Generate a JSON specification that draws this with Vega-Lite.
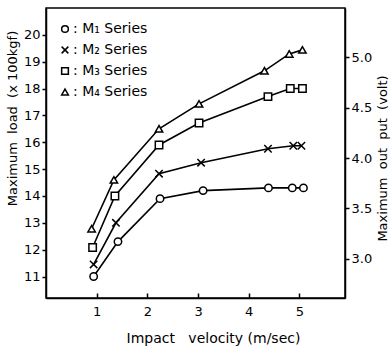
{
  "$schema": "https://vega.github.io/schema/vega-lite/v6.json",
  "width": 299,
  "height": 290,
  "autosize": {"type": "none"},
  "padding": {"left": 46, "top": 8, "right": 46, "bottom": 52},
  "background": "white",
  "config": {
    "font": "DejaVu Sans",
    "view": {"stroke": "black", "strokeWidth": 1.5},
    "axis": {
      "labelFont": "DejaVu Sans",
      "titleFont": "DejaVu Sans",
      "labelFontSize": 13,
      "titleFontSize": 13,
      "titleFontWeight": "normal",
      "labelColor": "black",
      "titleColor": "black",
      "domainColor": "black",
      "domainWidth": 1.5,
      "tickColor": "black",
      "tickWidth": 1.5,
      "grid": false,
      "labelOverlap": false,
      "titleBaseline": "middle"
    },
    "legend": {
      "labelFont": "DejaVu Sans",
      "labelFontSize": 14,
      "labelColor": "black"
    }
  },
  "datasets": {
    "main": [
      {"series": "M₁ Series", "v": 0.94, "load": 11.0},
      {"series": "M₁ Series", "v": 1.42, "load": 12.3},
      {"series": "M₁ Series", "v": 2.25, "load": 13.9},
      {"series": "M₁ Series", "v": 3.1, "load": 14.2},
      {"series": "M₁ Series", "v": 4.39, "load": 14.3},
      {"series": "M₁ Series", "v": 4.86, "load": 14.3},
      {"series": "M₁ Series", "v": 5.08, "load": 14.3},
      {"series": "M₂ Series", "v": 0.94, "load": 11.45},
      {"series": "M₂ Series", "v": 1.38, "load": 13.0},
      {"series": "M₂ Series", "v": 2.23, "load": 14.83},
      {"series": "M₂ Series", "v": 3.06, "load": 15.24},
      {"series": "M₂ Series", "v": 4.38, "load": 15.76},
      {"series": "M₂ Series", "v": 4.88, "load": 15.87},
      {"series": "M₂ Series", "v": 5.04, "load": 15.87},
      {"series": "M₃ Series", "v": 0.92, "load": 12.08},
      {"series": "M₃ Series", "v": 1.36, "load": 14.0},
      {"series": "M₃ Series", "v": 2.23, "load": 15.9},
      {"series": "M₃ Series", "v": 3.02, "load": 16.72},
      {"series": "M₃ Series", "v": 4.38, "load": 17.7},
      {"series": "M₃ Series", "v": 4.82, "load": 18.0},
      {"series": "M₃ Series", "v": 5.06, "load": 18.0},
      {"series": "M₄ Series", "v": 0.9, "load": 12.78},
      {"series": "M₄ Series", "v": 1.34, "load": 14.6},
      {"series": "M₄ Series", "v": 2.23, "load": 16.5},
      {"series": "M₄ Series", "v": 3.02, "load": 17.43},
      {"series": "M₄ Series", "v": 4.31, "load": 18.66},
      {"series": "M₄ Series", "v": 4.8, "load": 19.29},
      {"series": "M₄ Series", "v": 5.06, "load": 19.44}
    ],
    "volt": [
      {"volt": 3.0},
      {"volt": 5.0}
    ]
  },
  "layer": [
    {
      "data": {"name": "main"},
      "encoding": {
        "x": {
          "field": "v", "type": "quantitative",
          "scale": {"domain": [0, 5.9], "nice": false, "zero": false},
          "axis": {
            "values": [1, 2, 3, 4, 5],
            "tickSize": -5,
            "labelPadding": 12,
            "title": "Impact\u00a0\u00a0\u00a0velocity (m/sec)",
            "titleFontSize": 14,
            "titleX": 167,
            "titleY": 40
          }
        },
        "y": {
          "field": "load", "type": "quantitative",
          "scale": {"domain": [10.2, 21.0], "nice": false, "zero": false},
          "axis": {
            "values": [11, 12, 13, 14, 15, 16, 17, 18, 19, 20],
            "tickSize": 4,
            "labelPadding": 2,
            "title": "Maximum\u00a0\u00a0load\u00a0\u00a0(x 100kgf)",
            "titleX": -34,
            "titleY": 110
          }
        }
      },
      "layer": [
        {
          "mark": {"type": "line", "color": "black", "strokeWidth": 1.6},
          "encoding": {
            "detail": {"field": "series"}
          }
        },
        {
          "mark": {"type": "point", "filled": false, "color": "black", "fill": "white", "fillOpacity": 1, "opacity": 1, "strokeWidth": 1.5, "size": 55},
          "encoding": {
            "shape": {
              "field": "series", "type": "nominal",
              "scale": {
                "domain": ["M₁ Series", "M₂ Series", "M₃ Series", "M₄ Series"],
                "range": ["circle", "M-1,-1L1,1M-1,1L1,-1", "square", "triangle-up"]
              },
              "legend": {
                "title": null,
                "orient": "none",
                "legendX": 12,
                "legendY": 14,
                "labelExpr": "': ' + datum.label",
                "labelOffset": 1,
                "rowPadding": 7,
                "symbolSize": 45,
                "encode": {
                  "symbols": {
                    "update": {
                      "fill": {"value": "white"},
                      "stroke": {"value": "black"},
                      "strokeWidth": {"value": 1.5},
                      "opacity": {"value": 1},
                      "fillOpacity": {"value": 1},
                      "strokeOpacity": {"value": 1}
                    }
                  }
                }
              }
            }
          }
        }
      ]
    },
    {
      "data": {"name": "volt"},
      "mark": {"type": "point", "size": 0, "strokeWidth": 0},
      "encoding": {
        "y": {
          "field": "volt", "type": "quantitative",
          "scale": {"domain": [2.61, 5.49], "nice": false, "zero": false},
          "axis": {
            "orient": "right",
            "values": [3.0, 3.5, 4.0, 4.5, 5.0],
            "format": ".1f",
            "tickSize": 4,
            "labelPadding": 2,
            "title": "Maximum\u00a0\u00a0out\u00a0\u00a0put\u00a0\u00a0(volt)",
            "titleFontSize": 13,
            "titleX": 37,
            "titleY": 150,
            "titleAngle": 270
          }
        }
      }
    }
  ],
  "resolve": {"scale": {"y": "independent"}}
}
